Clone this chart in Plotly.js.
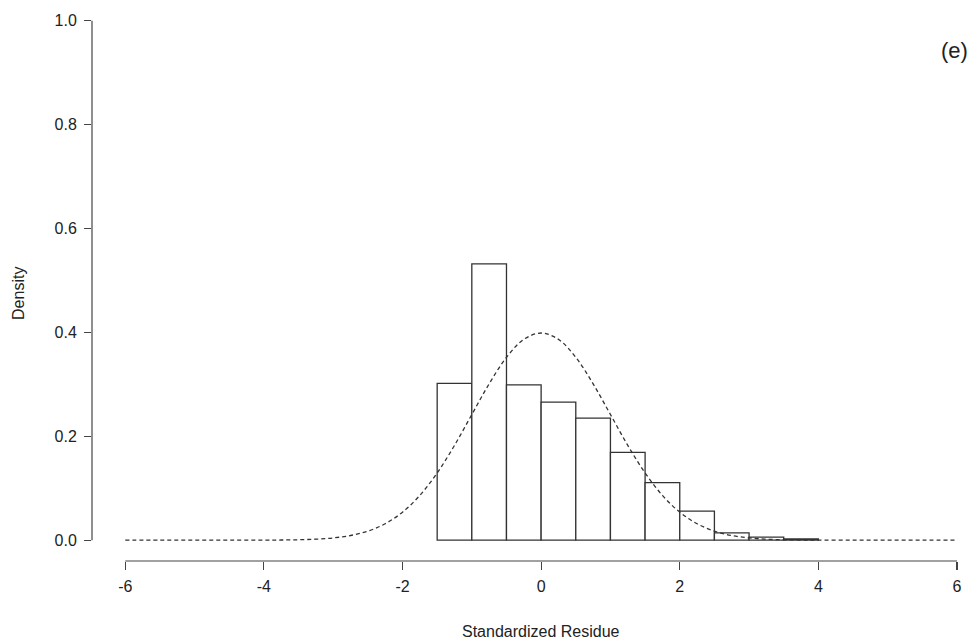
<!DOCTYPE html>
<html>
<head>
<meta charset="utf-8">
<script src="https://cdn.plot.ly/plotly-3.0.1.min.js"></script>
<style>html,body{margin:0;padding:0;background:#fff;}#chart{width:978px;height:641px;}</style>
</head>
<body>
<div id="chart"></div>
<script>
// Histogram bins (centers, width 0.5) and densities
const binCenters = [-1.25, -0.75, -0.25, 0.25, 0.75, 1.25, 1.75, 2.25, 2.75, 3.25, 3.75];
const binDensity = [0.302, 0.532, 0.299, 0.266, 0.235, 0.169, 0.111, 0.056, 0.014, 0.006, 0.0025];
// Dashed reference curve
const curveX = [-6, -5.5, -5, -4.5, -4, -3.75, -3.5, -3.25, -3, -2.75, -2.5, -2.25, -2, -1.75, -1.5, -1.25, -1, -0.75, -0.5, -0.25, 0,
                0.25, 0.5, 0.75, 1, 1.25, 1.5, 1.75, 2, 2.25, 2.5, 2.75, 3, 3.25, 3.5, 3.75, 4, 4.5, 5, 5.5, 6];
const curveY = [0, 0, 0, 0, 0.0001, 0.0004, 0.0009, 0.002, 0.0044, 0.0091, 0.0175, 0.0317, 0.054, 0.0863, 0.1295, 0.1826, 0.242, 0.3011, 0.3521, 0.3867, 0.3989,
                0.3867, 0.3521, 0.3011, 0.242, 0.1826, 0.1295, 0.0863, 0.054, 0.0317, 0.0175, 0.0091, 0.0044, 0.002, 0.0009, 0.0004, 0.0001, 0, 0, 0, 0];
const xTicks = [-6, -4, -2, 0, 2, 4, 6];
const xTickLabels = ["-6", "-4", "-2", "0", "2", "4", "6"];
const yTicks = [0, 0.2, 0.4, 0.6, 0.8, 1.0];
const yTickLabels = ["0.0", "0.2", "0.4", "0.6", "0.8", "1.0"];
const xTitle = "Standardized Residue";
const yTitle = "Density";
const panelLabel = "(e)";

const ink = "#333333";
const font = "Liberation Sans, Arial, sans-serif";

const traces = [
  {
    type: "bar", x: binCenters, y: binDensity, width: 0.5,
    marker: {color: "rgba(255,255,255,1)", line: {color: ink, width: 1.3}},
    hoverinfo: "x+y", showlegend: false
  },
  {
    type: "scatter", mode: "lines", x: curveX, y: curveY,
    line: {color: ink, width: 1.3, dash: "4px,3px", shape: "spline", smoothing: 1},
    showlegend: false
  }
];

const layout = {
  width: 978, height: 641,
  margin: {l: 92, r: 0, t: 0, b: 80},
  paper_bgcolor: "#ffffff", plot_bgcolor: "#ffffff",
  font: {family: font, size: 16, color: "#222"},
  bargap: 0,
  xaxis: {
    range: [-6.48, 6.303], tickvals: xTicks, ticktext: xTickLabels, ticks: "outside", ticklen: 8, tickwidth: 1.2, tickcolor: "#444",
    showgrid: false, zeroline: false, showline: false, ticklabelstandoff: 3,
    tickfont: {family: font, size: 16, color: "#222"}
  },
  yaxis: {
    range: [-0.04, 1.04], tickvals: yTicks, ticktext: yTickLabels, ticks: "outside", ticklen: 7, tickwidth: 1.2, tickcolor: "#444",
    showgrid: false, zeroline: false, showline: false, ticklabelstandoff: 4,
    tickfont: {family: font, size: 16, color: "#222"}
  },
  shapes: [
    {type: "line", xref: "x", yref: "paper", x0: xTicks[0], x1: xTicks[xTicks.length - 1], y0: 0, y1: 0, line: {color: "#444", width: 1.2}},
    {type: "line", xref: "paper", yref: "y", x0: 0, x1: 0, y0: yTicks[0], y1: yTicks[yTicks.length - 1], line: {color: "#444", width: 1.2}}
  ],
  annotations: [
    {text: xTitle, xref: "x", yref: "paper", x: 0, y: -0.125, showarrow: false, xanchor: "center", yanchor: "middle",
     font: {family: font, size: 16, color: "#222"}},
    {text: yTitle, xref: "paper", yref: "y", x: -0.0824, y: 0.476, showarrow: false, textangle: -90, xanchor: "center", yanchor: "middle",
     font: {family: font, size: 16, color: "#222"}},
    {text: panelLabel, xref: "x", yref: "y", x: 5.96, y: 0.942, showarrow: false, xanchor: "center", yanchor: "middle",
     font: {family: font, size: 22, color: "#222"}}
  ]
};

Plotly.newPlot("chart", traces, layout, {displayModeBar: false, staticPlot: true});
</script>
</body>
</html>
